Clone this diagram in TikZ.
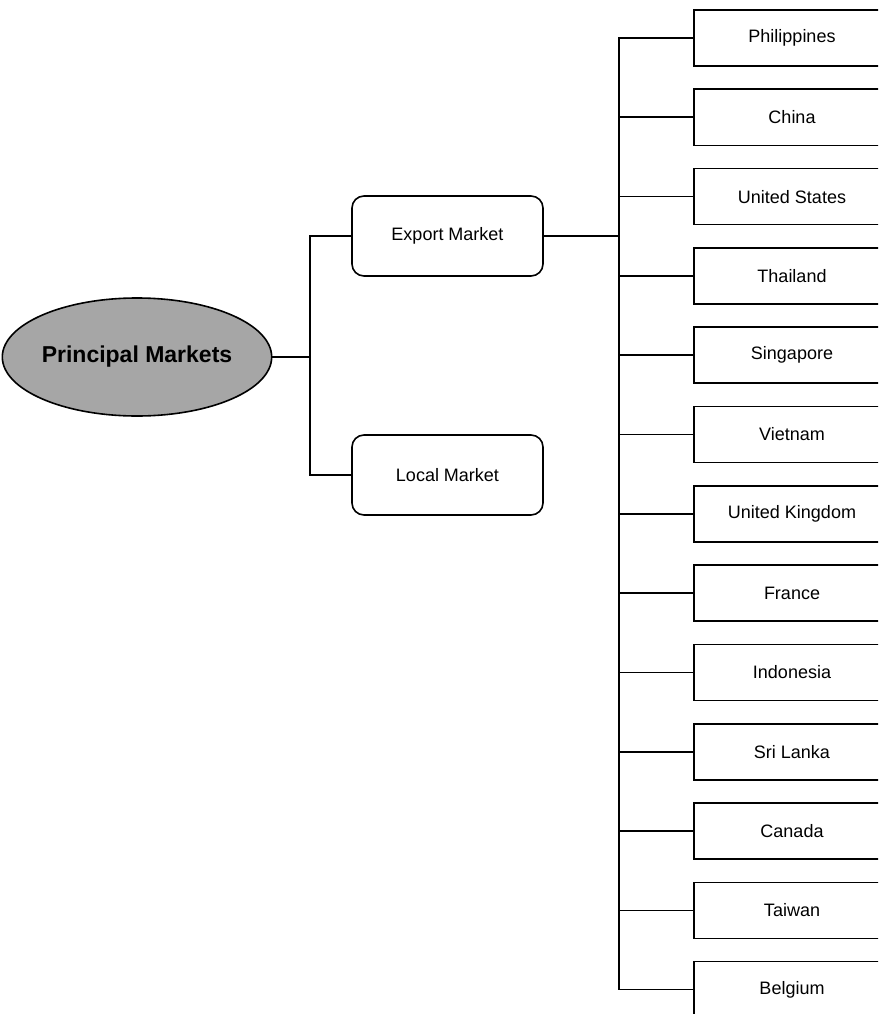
\documentclass[tikz,border=0pt]{standalone}
\usepackage{fontspec}
\setmainfont{Liberation Sans}
\usetikzlibrary{positioning,shapes.geometric}

\begin{document}
\begin{tikzpicture}[
  x=1pt, y=-1pt,
  font=\fontsize{18}{21}\selectfont,
  line width=1.6pt,
  hub/.style={draw, ellipse, fill=black!35, minimum width=265pt,
              minimum height=118pt, inner sep=0pt,
              font=\fontsize{23}{26}\selectfont\bfseries},
  mkt/.style={draw, rounded corners=12pt, minimum width=191pt,
              minimum height=80pt, align=center},
  ctry/.style={draw, minimum width=196pt, minimum height=56pt,
               align=center}
]
\useasboundingbox (0,0) rectangle (878,1014);
\clip (0,0) rectangle (878,1014);

\node[hub] (pm) at (137,357) {Principal Markets};
\node[mkt] (exp) at (447.5,236) {Export Market};
\node[mkt, below=157.4pt of exp] (loc) {Local Market};

\node[ctry] (phi) at (792,38) {Philippines};
\node[ctry, below=21.7pt of phi] (chn) {China};
\node[ctry, below=21.7pt of chn] (usa) {United States};
\node[ctry, below=21.7pt of usa] (tha) {Thailand};
\node[ctry, below=21.7pt of tha] (sgp) {Singapore};
\node[ctry, below=21.7pt of sgp] (vnm) {Vietnam};
\node[ctry, below=21.7pt of vnm] (gbr) {United Kingdom};
\node[ctry, below=21.7pt of gbr] (fra) {France};
\node[ctry, below=21.7pt of fra] (idn) {Indonesia};
\node[ctry, below=21.7pt of idn] (lka) {Sri Lanka};
\node[ctry, below=21.7pt of lka] (can) {Canada};
\node[ctry, below=21.7pt of can] (twn) {Taiwan};
\node[ctry, below=21.7pt of twn] (bel) {Belgium};

\coordinate (jl) at (310,357);
\coordinate (jr) at (619,236);

\draw (pm) -- (jl);
\draw (jl) |- (exp);
\draw (jl) |- (loc);
\draw (exp) -- (jr);
\draw (jr) |- (phi);
\draw (jr) |- (chn);
\draw (jr) |- (usa);
\draw (jr) |- (tha);
\draw (jr) |- (sgp);
\draw (jr) |- (vnm);
\draw (jr) |- (gbr);
\draw (jr) |- (fra);
\draw (jr) |- (idn);
\draw (jr) |- (lka);
\draw (jr) |- (can);
\draw (jr) |- (twn);
\draw (jr) |- (bel);
\end{tikzpicture}
\end{document}
